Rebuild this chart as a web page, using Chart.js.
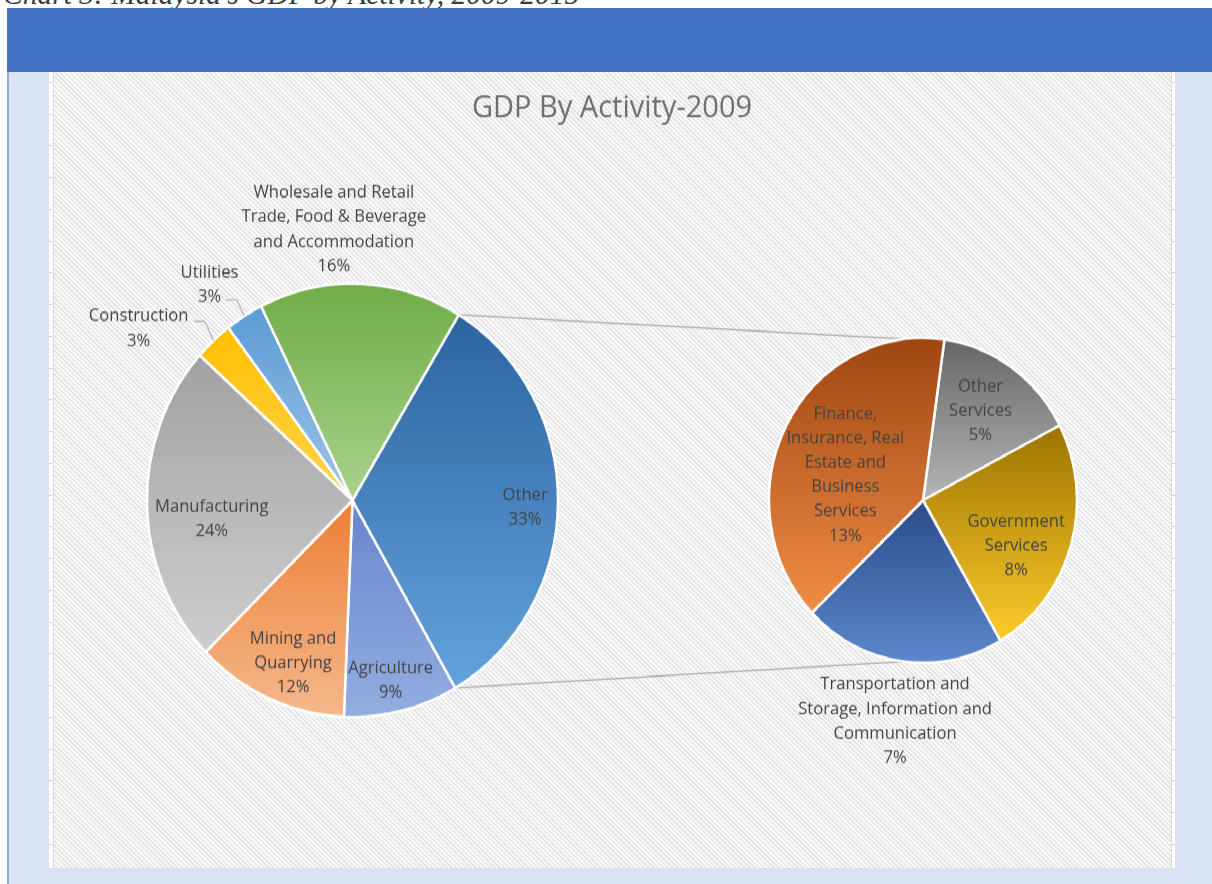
<!DOCTYPE html>
<html>
<head>
<meta charset="utf-8">
<title>GDP By Activity-2009</title>
<script src="https://cdn.jsdelivr.net/npm/chart.js@4.4.1/dist/chart.umd.min.js"></script>
<style>
  html, body { margin: 0; padding: 0; width: 1212px; height: 884px; overflow: hidden; background: #ffffff; position: relative; }
  #caption { position: absolute; left: 3px; top: -20px; font: italic 29.5px/29.5px 'Liberation Serif', 'DejaVu Serif', serif; color: #3a3a3a; white-space: nowrap; }
  #band { position: absolute; left: 7px; top: 8px; width: 1205px; height: 64px; background: #4472c4; }
  #panel { position: absolute; left: 7px; top: 72px; width: 1205px; height: 812px; background: #dae3f3; border-left: 2px solid #8faadc; box-sizing: border-box; }
  #frame { position: absolute; left: 49px; top: 72px; width: 1126px; height: 796px; background: #ffffff; }
  .ruler { position: absolute; top: 0; width: 3px; height: 796px;
           background: repeating-linear-gradient(to bottom, transparent 0px, transparent 10px, #d2d2d2 10px, #d2d2d2 11px, transparent 11px, transparent 31.75px); }
  .edge { position: absolute; top: 0; width: 1px; height: 796px; background: #d9d9d9; }
  #hatch { position: absolute; left: 5px; top: 0; width: 1117px; height: 796px;
           background: repeating-linear-gradient(45deg, #fbfbfb 0px, #fbfbfb 1.7px, #e5e5e5 1.7px, #e5e5e5 3.4px); }
  #stage { position: absolute; left: 0; top: 0; width: 1126px; height: 754px; transform: scaleY(1.055); transform-origin: 0 0; }
  #stage canvas { position: absolute; left: 0; top: 0; }
</style>
</head>
<body>
<div id="caption">Chart 3: Malaysia's GDP by Activity, 2009-2015</div>
<div id="band"></div>
<div id="panel"></div>
<div id="frame">
  <div class="ruler" style="left:0"></div>
  <div class="edge" style="left:4px"></div>
  <div id="hatch"></div>
  <div class="edge" style="left:1122px"></div>
  <div class="ruler" style="left:1123px"></div>
  <div id="stage">
    <canvas id="mainPie" width="1126" height="754"></canvas>
    <canvas id="otherPie" width="1126" height="754"></canvas>
  </div>
</div>

<script>
// ---- Data: share of GDP by activity, 2009 (%) ----
const chartTitle = 'GDP By Activity-2009';

const mainCategories = [
  'Agriculture',
  'Mining and Quarrying',
  'Manufacturing',
  'Construction',
  'Utilities',
  'Wholesale and Retail Trade, Food & Beverage and Accommodation',
  'Other'
];
const mainShares = [9, 12, 24, 3, 3, 16, 33];
const mainLabelLines = [
  ['Agriculture'],
  ['Mining and', 'Quarrying'],
  ['Manufacturing'],
  ['Construction'],
  ['Utilities'],
  ['Wholesale and Retail', 'Trade, Food & Beverage', 'and Accommodation'],
  ['Other']
];

// Breakdown of the "Other" slice
const otherCategories = [
  'Other Services',
  'Government Services',
  'Transportation and Storage, Information and Communication',
  'Finance, Insurance, Real Estate and Business Services'
];
const otherShares = [5, 8, 7, 13];
const otherLabelLines = [
  ['Other', 'Services'],
  ['Government', 'Services'],
  ['Transportation and', 'Storage, Information and', 'Communication'],
  ['Finance,', 'Insurance, Real', 'Estate and', 'Business', 'Services']
];

// ---- Styling ----
const LABEL_FONT = '16.6px "Open Sans", Lato, sans-serif';
const TITLE_FONT = '29px "Open Sans", Lato, sans-serif';
const LABEL_COLOR = '#434343';
const LINE_H = 23.2;
const LABEL_SHIFT = 2;

// top -> bottom gradient stops for each slice
const mainFills = [
  ['#6886cf', '#93aee0'],
  ['#ee7f36', '#f5b88b'],
  ['#a2a2a2', '#cecece'],
  ['#ffbf00', '#ffd54f'],
  ['#5b9bd5', '#a0c5e8'],
  ['#70ad47', '#a9d28d'],
  ['#2c64a0', '#63a3dd']
];
const otherFills = [
  ['#666666', '#b6b6b6'],
  ['#9c7400', '#fdcb2c'],
  ['#2b4c8a', '#5d87cd'],
  ['#9e4712', '#f28d46']
];

// label placement: k = fraction of radius along the slice's mid angle, dx/dy = nudge
const mainPlacement = [
  { k: 0.84, dx: -3, dy: 1 },
  { k: 0.795, dx: 7, dy: 3 },
  { k: 0.69, dx: 1, dy: 13 },
  { k: 1.3, dx: -33, dy: 32, leader: { end: [55.7, -4.9], elbow: [66.3, -4.9] } },
  { k: 1.2, dx: -13, dy: 3, leader: { end: [16.3, 16.6], elbow: [27.3, 16.6] } },
  { k: 1.26, dx: -29.5, dy: 0 },
  { k: 0.84, dx: 0, dy: 3 }
];
const otherPlacement = [
  { k: 0.68, dx: -3, dy: -1 },
  { k: 0.66, dx: -4.5, dy: 13 },
  { k: 1.35, dx: 1, dy: 1.5 },
  { k: 0.53, dx: -5, dy: 11 }
];

// geometry of a pie computed from its data, rotation and radius
function pieGeometry(chart) {
  const a = chart.chartArea;
  const cx = (a.left + a.right) / 2, cy = (a.top + a.bottom) / 2;
  const r = chart.options.radius;
  const data = chart.data.datasets[0].data;
  const total = data.reduce((s, v) => s + v, 0);
  let ang = -Math.PI / 2 + chart.options.rotation * Math.PI / 180;
  const arcs = data.map(v => { const a0 = ang; ang += v / total * 2 * Math.PI; return { a0, a1: ang }; });
  return { cx, cy, r, arcs };
}

// vertical gradient spanning one slice's own bounding box
function sliceFill(context, fills) {
  const chart = context.chart;
  const stops = fills[context.dataIndex];
  if (!chart.chartArea) return stops[0];
  const g = pieGeometry(chart);
  const { a0, a1 } = g.arcs[context.dataIndex];
  const ys = [g.cy, g.cy + g.r * Math.sin(a0), g.cy + g.r * Math.sin(a1)];
  for (let k = -2; k <= 3; k++) {
    [-Math.PI / 2, Math.PI / 2].forEach(base => {
      const t = base + 2 * Math.PI * k;
      if (t > a0 && t < a1) ys.push(g.cy + g.r * Math.sin(t));
    });
  }
  const y0 = Math.min(...ys), y1 = Math.max(...ys);
  const grad = chart.ctx.createLinearGradient(0, y0, 0, y1 + 0.01);
  grad.addColorStop(0, stops[0]);
  grad.addColorStop(1, stops[1]);
  return grad;
}

// data labels drawn from each arc element
function labelPlugin(lines, placement) {
  return {
    id: 'sliceLabels',
    afterDatasetsDraw(chart) {
      const ctx = chart.ctx;
      const arcs = chart.getDatasetMeta(0).data;
      const values = chart.data.datasets[0].data;
      ctx.save();
      ctx.font = LABEL_FONT;
      ctx.fillStyle = LABEL_COLOR;
      ctx.textAlign = 'center';
      ctx.textBaseline = 'middle';
      arcs.forEach((arc, i) => {
        const p = placement[i];
        const mid = (arc.startAngle + arc.endAngle) / 2;
        const x = arc.x + p.k * arc.outerRadius * Math.cos(mid) + p.dx;
        const y = arc.y + p.k * arc.outerRadius * Math.sin(mid) + p.dy + LABEL_SHIFT;
        if (p.leader) {
          ctx.save();
          ctx.strokeStyle = '#a6a6a6';
          ctx.lineWidth = 1;
          ctx.beginPath();
          ctx.moveTo(x + p.leader.end[0], y + p.leader.end[1] - LABEL_SHIFT);
          ctx.lineTo(x + p.leader.elbow[0], y + p.leader.elbow[1] - LABEL_SHIFT);
          ctx.lineTo(arc.x + arc.outerRadius * Math.cos(mid), arc.y + arc.outerRadius * Math.sin(mid));
          ctx.stroke();
          ctx.restore();
        }
        const text = lines[i].concat([values[i] + '%']);
        text.forEach((t, j) => ctx.fillText(t, x, y + (j - (text.length - 1) / 2) * LINE_H));
      });
      ctx.restore();
    }
  };
}

const baseOptions = {
  responsive: false,
  animation: false,
  events: [],
  plugins: { legend: { display: false }, tooltip: { enabled: false }, title: { display: false } }
};

// ---- Secondary pie: breakdown of "Other" ----
const otherChart = new Chart(document.getElementById('otherPie'), {
  type: 'pie',
  data: {
    labels: otherCategories,
    datasets: [{
      data: otherShares,
      backgroundColor: c => sliceFill(c, otherFills),
      borderColor: '#ffffff',
      borderWidth: 2.5
    }]
  },
  options: Object.assign({}, baseOptions, {
    radius: 154,
    rotation: 8,
    layout: { padding: { left: 720, top: 252, right: 98, bottom: 194 } }
  }),
  plugins: [labelPlugin(otherLabelLines, otherPlacement)]
});

// connector lines from the "Other" slice to the secondary pie, plus the title
const connectorPlugin = {
  id: 'connectors',
  beforeDatasetsDraw(chart) {
    const ctx = chart.ctx;
    const src = chart.getDatasetMeta(0).data[mainCategories.indexOf('Other')];
    const dst = otherChart.getDatasetMeta(0).data[0];
    const tilt = 7 * Math.PI / 180;
    const p0 = [src.x + src.outerRadius * Math.cos(src.startAngle), src.y + src.outerRadius * Math.sin(src.startAngle)];
    const p1 = [src.x + src.outerRadius * Math.cos(src.endAngle), src.y + src.outerRadius * Math.sin(src.endAngle)];
    const q0 = [dst.x + dst.outerRadius * Math.cos(-Math.PI / 2 - tilt), dst.y + dst.outerRadius * Math.sin(-Math.PI / 2 - tilt)];
    const q1 = [dst.x + dst.outerRadius * Math.cos(Math.PI / 2 + tilt), dst.y + dst.outerRadius * Math.sin(Math.PI / 2 + tilt)];
    ctx.save();
    ctx.strokeStyle = '#a6a6a6';
    ctx.lineWidth = 1.2;
    ctx.beginPath();
    ctx.moveTo(p0[0], p0[1]); ctx.lineTo(q0[0], q0[1]);
    ctx.moveTo(p1[0], p1[1]); ctx.lineTo(q1[0], q1[1]);
    ctx.stroke();
    ctx.fillStyle = '#6f6f6f';
    ctx.font = TITLE_FONT;
    ctx.textAlign = 'center';
    ctx.textBaseline = 'alphabetic';
    ctx.fillText(chartTitle, chart.width / 2, 43);
    ctx.restore();
  }
};

// ---- Main pie ----
new Chart(document.getElementById('mainPie'), {
  type: 'pie',
  data: {
    labels: mainCategories,
    datasets: [{
      data: mainShares,
      backgroundColor: c => sliceFill(c, mainFills),
      borderColor: '#ffffff',
      borderWidth: 2.5
    }]
  },
  options: Object.assign({}, baseOptions, {
    radius: 205.5,
    rotation: 150,
    layout: { padding: { left: 98, top: 200.5, right: 617, bottom: 142.5 } }
  }),
  plugins: [connectorPlugin, labelPlugin(mainLabelLines, mainPlacement)]
});
</script>
</body>
</html>
